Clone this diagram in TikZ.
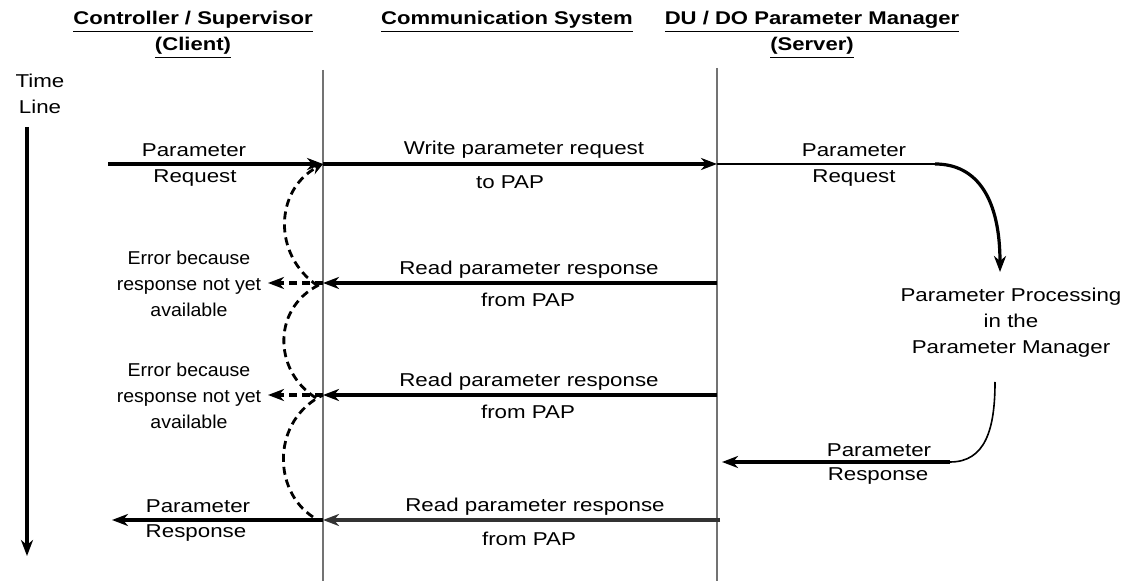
\documentclass[tikz,border=0pt]{standalone}
\usepackage{fontspec}
\setmainfont[FakeStretch=1.2]{Liberation Sans}
\newfontfamily\errfont[FakeStretch=1.05]{Liberation Sans}
\usetikzlibrary{arrows.meta}

\begin{document}
\begin{tikzpicture}[x=0.5pt, y=-0.5pt, font=\fontsize{9.3}{13}\selectfont,
  lifeline/.style = {draw=black!55, line width=1.1pt},
  msg/.style = {line width=1.6pt, -{Stealth[length=8pt, width=6pt, inset=2.5pt]}},
  errmsg/.style = {msg, dash pattern=on 4pt off 2.5pt},
  retry/.style = {line width=1.4pt, dash pattern=on 4pt off 2.5pt},
  lbl/.style = {inner sep=0pt, align=center},
  errlbl/.style = {lbl, font=\errfont\fontsize{9.3}{13}\selectfont},
  head/.style = {lbl, font=\fontsize{9.2}{13}\selectfont\bfseries}]
\useasboundingbox (0,0) rectangle (1133,581);

% column heads
\node[head] (client) at (193,35) {\underline{Controller / Supervisor}\\\underline{(Client)}};
\node[head] (comm) at (507,22) {\underline{Communication System}};
\node[head] (server) at (812,35) {\underline{DU / DO Parameter Manager}\\\underline{(Server)}};

% time line
\node[lbl] (time) at (40,94) {Time\\Line};
\coordinate (tl-top) at (27,127);
\coordinate (tl-end) at (27,556);
\draw[msg] (tl-top) -- (tl-end);

% lifelines
\coordinate (cs0) at (323,70);
\coordinate (cs5) at (323,581);
\coordinate (ss0) at (717,68);
\coordinate (ss5) at (717,581);
\draw[lifeline] (cs0) -- (cs5);
\draw[lifeline] (ss0) -- (ss5);

% request
\coordinate (req) at (108,164);
\coordinate (cs1) at (323,164);
\coordinate (ss1) at (717,164);
\draw[msg] (req) -- (cs1);
\node[lbl] (req-a) at (194,150) {Parameter};
\node[lbl] (req-b) at (195,178) {Request};
\draw[msg] (cs1) -- (ss1);
\node[lbl] (wr-a) at (524,150) {Write parameter request};
\node[lbl] (wr-b) at (510,182) {to PAP};

% processing in the server
\coordinate (bend1) at (935,164);
\coordinate (pin) at (1000,272);
\draw[line width=1pt] (ss1) -- (bend1);
\draw[msg] (bend1) .. controls (978,164) and (1000,200) .. (pin);
\node[lbl] (sreq-a) at (854,150) {Parameter};
\node[lbl] (sreq-b) at (854,178) {Request};
\node[lbl] (proc) at (1011,323) {Parameter Processing\\in the\\Parameter Manager};
\coordinate (pout) at (995,382);
\coordinate (bend2) at (950,462);
\coordinate (sres) at (722,462);
\draw[line width=0.8pt] (pout) .. controls (995,430) and (985,462) .. (bend2);
\draw[msg] (bend2) -- (sres);
\node[lbl] (sres-a) at (879,450) {Parameter};
\node[lbl] (sres-b) at (878,476) {Response};

% polling
\foreach \y/\n in {283/2, 395/3} {
  \coordinate (cs\n) at (323,\y);
  \coordinate (ss\n) at (717,\y);
  \coordinate (err\n) at (268,\y);
  \draw[msg] (ss\n) -- (cs\n);
  \draw[errmsg] (cs\n) -- (err\n);
  \node[lbl] (rd\n-a) at (529,\y-13) {Read parameter response};
  \node[lbl] (rd\n-b) at (528,\y+17) {from PAP};
  \node[errlbl] (err\n-txt) at (189,\y+1) {Error because\\response not yet\\available};
}

% response
\coordinate (cs4) at (323,520);
\coordinate (ss4) at (720,520);
\coordinate (resp) at (112,520);
\draw[msg, draw=black!80] (ss4) -- (cs4);
\draw[msg] (cs4) -- (resp);
\node[lbl] (rd4-a) at (535,507) {Read parameter response};
\node[lbl] (rd4-b) at (529,539) {from PAP};
\node[lbl] (resp-a) at (198,506) {Parameter};
\node[lbl] (resp-b) at (196,533) {Response};

% retries
\draw[retry, -{Stealth[length=6pt, width=5pt, inset=2pt]}] (318,286) .. controls (272,255) and (275,190) .. (cs1);
\draw[retry] (316,398) .. controls (272,370) and (272,305) .. (cs2);
\draw[retry] (313,517) .. controls (272,490) and (272,420) .. (cs3);
\end{tikzpicture}
\end{document}
